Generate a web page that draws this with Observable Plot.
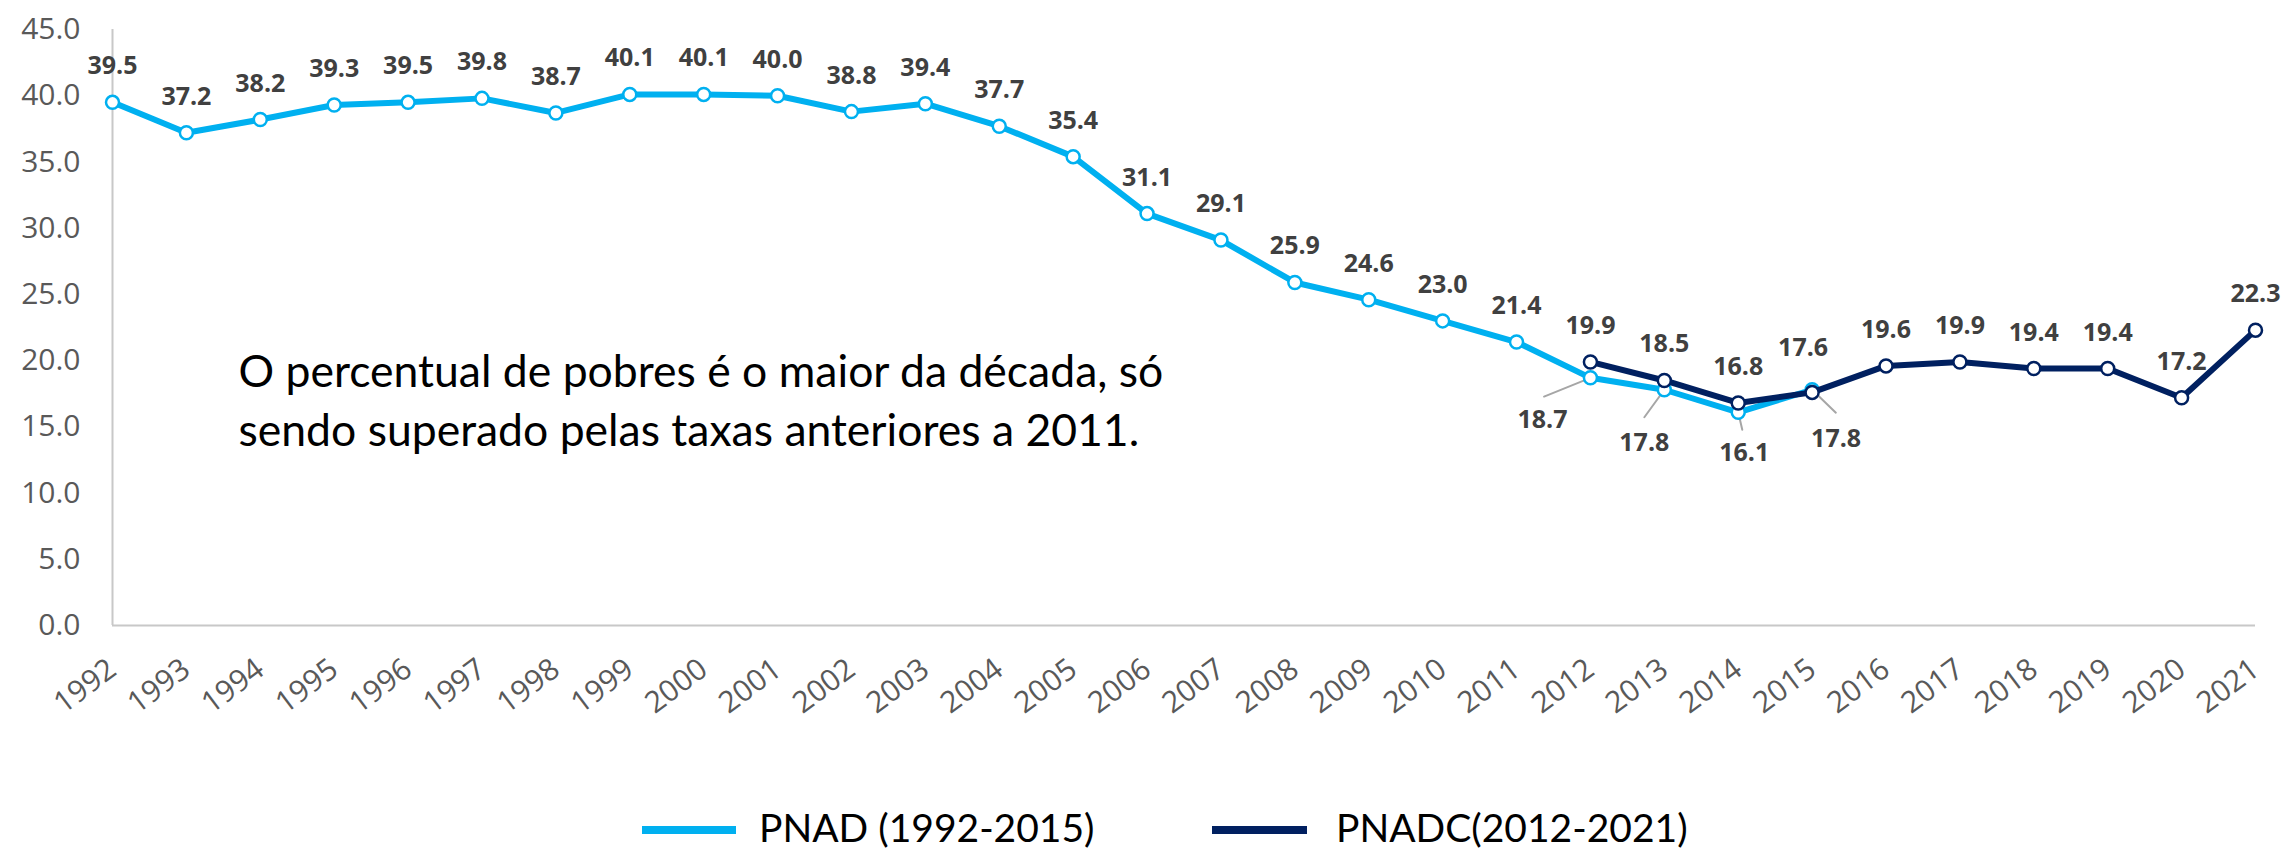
<!DOCTYPE html>
<html><head><meta charset="utf-8">
<script src="https://cdn.jsdelivr.net/npm/d3@7"></script>
<script src="https://cdn.jsdelivr.net/npm/@observablehq/plot@0.6"></script>
<style>
html,body{margin:0;padding:0;background:#fff}
body{width:2289px;height:851px;overflow:hidden;position:relative;font-family:"Open Sans",sans-serif}
#chart{position:absolute;left:0;top:0}
#legend{position:absolute;top:804px;left:0;width:2289px;height:46px}
.sw{position:absolute;height:8px;top:22px}
.lt{position:absolute;font-family:Lato,sans-serif;font-size:39px;line-height:46px;top:0;color:#000;white-space:nowrap}
</style></head><body><div id="chart"></div><div id="legend"></div>
<script>
const years = [1992,1993,1994,1995,1996,1997,1998,1999,2000,2001,2002,2003,2004,2005,2006,2007,2008,2009,2010,2011,2012,2013,2014,2015,2016,2017,2018,2019,2020,2021];
const pnadYears = [1992,1993,1994,1995,1996,1997,1998,1999,2000,2001,2002,2003,2004,2005,2006,2007,2008,2009,2010,2011,2012,2013,2014,2015];
const pnadValues = [39.5,37.2,38.2,39.3,39.5,39.8,38.7,40.1,40.1,40.0,38.8,39.4,37.7,35.4,31.1,29.1,25.9,24.6,23.0,21.4,18.7,17.8,16.1,17.8];
const pnadcYears = [2012,2013,2014,2015,2016,2017,2018,2019,2020,2021];
const pnadcValues = [19.9,18.5,16.8,17.6,19.6,19.9,19.4,19.4,17.2,22.3];
const yTicks = [0,5,10,15,20,25,30,35,40,45];
const seriesNames = ["PNAD (1992-2015)", "PNADC(2012-2021)"];
const seriesColors = ["#00b0f0", "#002060"];
const annotation = "O percentual de pobres é o maior da década, só\nsendo superado pelas taxas anteriores a 2011.";

const pnad = pnadYears.map((year, i) => ({year, value: pnadValues[i]}));
const pnadc = pnadcYears.map((year, i) => ({year, value: pnadcValues[i]}));
const fmt = v => v.toFixed(1);
const labelFont = {fontSize: 25, fontWeight: 700, fill: "#404040", fontFamily: "Open Sans"};
const lineShape = {draw(ctx, l) { ctx.moveTo(0, 0); ctx.lineTo(0, -l); }};

// leader-line geometry for the PNAD labels below the overlap
const leaders = {2012: [248, 50], 2013: [216, 34], 2014: [167, 18], 2015: [134, 33]};
const below = {2012: [-48, 42], 2013: [-20, 53], 2014: [6, 41], 2015: [24, 49]};

const marks = [
  Plot.ruleY([0], {stroke: "#c8c8c8", strokeWidth: 2}),
  Plot.ruleX([years[0]], {stroke: "#c8c8c8", strokeWidth: 2}),
  Plot.axisY({ticks: yTicks, tickFormat: fmt, tickSize: 0, tickPadding: 32, fontSize: 30, fill: "#595959", fontFamily: "Open Sans", label: null}),
  Plot.axisX({ticks: years, tickFormat: d => String(d), tickRotate: -37, tickSize: 0, tickPadding: 40, fontSize: 30, fill: "#595959", fontFamily: "Open Sans", label: null}),
  Plot.line(pnad, {x: "year", y: "value", stroke: seriesColors[0], strokeWidth: 6}),
  ...Object.keys(leaders).map(k => Plot.vector(pnad.filter(d => d.year === +k), {
    x: "year", y: "value", rotate: leaders[k][0], length: leaders[k][1], anchor: "start",
    shape: lineShape, stroke: "#a6a6a6", strokeWidth: 2
  })),
  Plot.dot(pnad, {x: "year", y: "value", r: 6.5, fill: "white", stroke: seriesColors[0], strokeWidth: 2.5}),
  Plot.line(pnadc, {x: "year", y: "value", stroke: seriesColors[1], strokeWidth: 6}),
  Plot.dot(pnadc, {x: "year", y: "value", r: 6.5, fill: "white", stroke: seriesColors[1], strokeWidth: 2.5}),
  Plot.text(pnad.filter(d => d.year <= 2011), {x: "year", y: "value", text: d => fmt(d.value), dy: -36, ...labelFont}),
  ...Object.keys(below).map(k => Plot.text(pnad.filter(d => d.year === +k), {
    x: "year", y: "value", text: d => fmt(d.value), dx: below[k][0], dy: below[k][1], ...labelFont
  })),
  Plot.text(pnadc.filter(d => d.year !== 2015), {x: "year", y: "value", text: d => fmt(d.value), dy: -36, ...labelFont}),
  Plot.text(pnadc.filter(d => d.year === 2015), {x: "year", y: "value", text: d => fmt(d.value), dx: -9, dy: -44, ...labelFont}),
  Plot.text([annotation], {frameAnchor: "top-left", dx: 126, dy: 316, text: d => d, textAnchor: "start", lineAnchor: "top", lineHeight: 1.32, fontSize: 44.5, fontFamily: "Lato", fill: "#000"})
];

const chart = Plot.plot({
  width: 2289,
  height: 790,
  marginLeft: 112,
  marginRight: 34,
  marginTop: 29,
  marginBottom: 165,
  style: {background: "#fff", overflow: "visible"},
  x: {domain: [years[0], years[years.length - 1]]},
  y: {domain: [yTicks[0], yTicks[yTicks.length - 1]]},
  marks
});
document.getElementById("chart").append(chart);

const legend = document.getElementById("legend");
const items = [[642, 736, 759], [1212, 1307, 1336]];
seriesNames.forEach((name, i) => {
  const sw = document.createElement("div");
  sw.className = "sw";
  sw.style.left = items[i][0] + "px";
  sw.style.width = (items[i][1] - items[i][0]) + "px";
  sw.style.background = seriesColors[i];
  legend.append(sw);
  const t = document.createElement("div");
  t.className = "lt";
  t.style.left = items[i][2] + "px";
  t.textContent = name;
  legend.append(t);
});
</script></body></html>
